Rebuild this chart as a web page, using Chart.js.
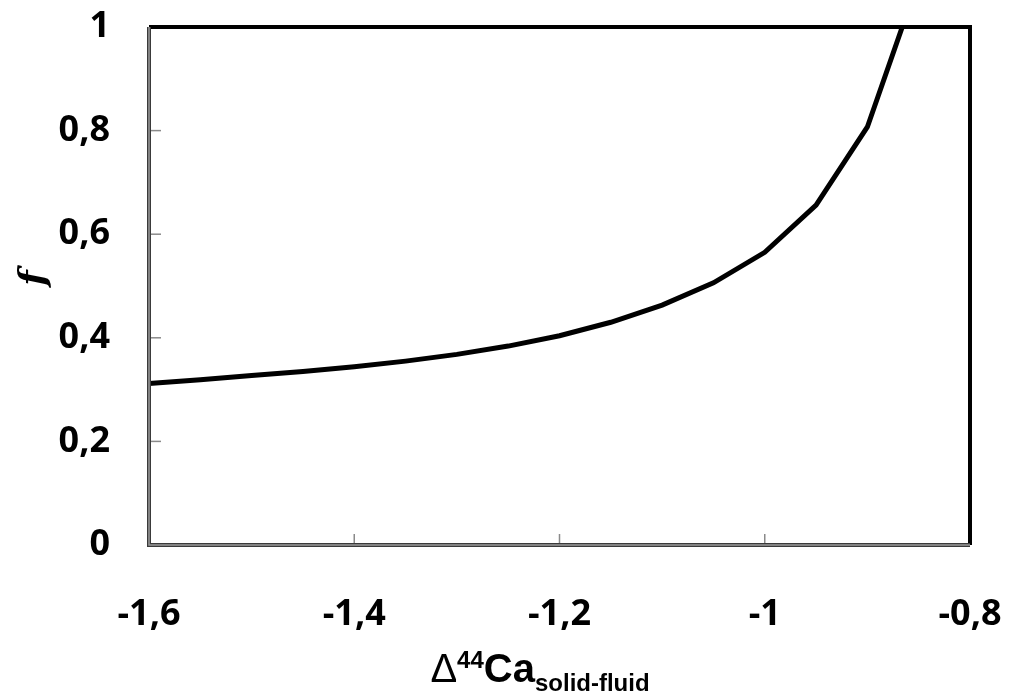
<!DOCTYPE html>
<html lang="en">
<head>
<meta charset="UTF-8" />
<title>f vs delta44Ca</title>
<script src="https://cdn.jsdelivr.net/npm/chart.js"></script>
<style>
  html, body {
    margin: 0; padding: 0;
    background: #fff;
  }
  #wrap {
    width: 1012px;
    height: 700px;
  }
</style>
</head>
<body>
<div id="wrap"><canvas id="chart" width="1012" height="700"></canvas></div>

<script>
  // values (every 0.05, last point where it hits f = 1)
  const deltaCa = [-1.6, -1.55, -1.5, -1.45, -1.4, -1.35, -1.3, -1.25, -1.2, -1.15, -1.1, -1.05, -1.0, -0.95, -0.9, -0.866];
  const fValues = [0.312, 0.319, 0.327, 0.335, 0.344, 0.355, 0.368, 0.384, 0.404, 0.430, 0.463, 0.506, 0.565, 0.656, 0.807, 1.0];
  const xTicks = [-1.6, -1.4, -1.2, -1, -0.8];
  const yTicks = [0, 0.2, 0.4, 0.6, 0.8, 1];

  const tickFont = { family: '"Open Sans", sans-serif', size: 36, weight: 'bold' };

  function fmt(v) {
    return String(Math.round(v * 10) / 10).replace('.', ',');
  }

  // frame, inward ticks and axis titles
  const decor = {
    id: 'decor',
    afterDraw(chart) {
      const { ctx, chartArea: a } = chart;
      const xs = chart.scales.x, ys = chart.scales.y;
      ctx.save();

      // inward tick marks
      ctx.strokeStyle = '#8a8a8a';
      ctx.lineWidth = 1.5;
      xTicks.forEach(v => {
        const px = xs.getPixelForValue(v);
        ctx.beginPath(); ctx.moveTo(px, a.bottom); ctx.lineTo(px, a.bottom - 11); ctx.stroke();
      });
      yTicks.forEach(v => {
        const py = ys.getPixelForValue(v);
        ctx.beginPath(); ctx.moveTo(a.left, py); ctx.lineTo(a.left + 12, py); ctx.stroke();
      });

      // top and right: black
      ctx.strokeStyle = '#000';
      ctx.lineWidth = 4;
      ctx.beginPath();
      ctx.moveTo(a.left, a.top); ctx.lineTo(a.right, a.top); ctx.lineTo(a.right, a.bottom);
      ctx.stroke();

      // left and bottom: dark outline with grey core
      ctx.strokeStyle = '#3a3a3a';
      ctx.lineWidth = 4;
      ctx.beginPath();
      ctx.moveTo(a.left, a.top); ctx.lineTo(a.left, a.bottom); ctx.lineTo(a.right, a.bottom);
      ctx.stroke();
      ctx.strokeStyle = '#9a9a9a';
      ctx.lineWidth = 1.5;
      ctx.stroke();

      // x title: Δ44Ca solid-fluid
      const base = 682;
      const parts = [
        { t: 'Δ', font: '40px "Liberation Sans", Arial, sans-serif', dy: 0 },
        { t: '44', font: 'bold 24px "Liberation Sans", Arial, sans-serif', dy: -14 },
        { t: 'Ca', font: 'bold 40px "Liberation Sans", Arial, sans-serif', dy: 0 },
        { t: 'solid-fluid', font: 'bold 24px "Liberation Sans", Arial, sans-serif', dy: 9 }
      ];
      let total = 0;
      parts.forEach(p => { ctx.font = p.font; p.w = ctx.measureText(p.t).width; total += p.w; });
      let x = 540 - total / 2;
      ctx.fillStyle = '#000';
      ctx.textBaseline = 'alphabetic';
      ctx.textAlign = 'left';
      parts.forEach(p => {
        ctx.font = p.font;
        ctx.fillText(p.t, x, base + p.dy);
        x += p.w;
      });

      // y title: italic f
      ctx.translate(35, 278);
      ctx.rotate(-Math.PI / 2);
      ctx.font = 'italic bold 36px "DejaVu Serif", serif';
      ctx.textAlign = 'center';
      ctx.textBaseline = 'middle';
      ctx.fillText('f', 0, 0);

      ctx.restore();
    }
  };

  new Chart(document.getElementById('chart'), {
    type: 'line',
    data: {
      datasets: [{
        data: deltaCa.map((x, i) => ({ x: x, y: fValues[i] })),
        borderColor: '#000',
        borderWidth: 5,
        pointRadius: 0,
        tension: 0,
        fill: false
      }]
    },
    options: {
      responsive: false,
      animation: false,
      layout: { padding: { top: 27, right: 42, left: 0, bottom: 0 } },
      plugins: { legend: { display: false }, tooltip: { enabled: false } },
      scales: {
        x: {
          type: 'linear',
          min: -1.6, max: -0.8,
          afterBuildTicks: s => { s.ticks = xTicks.map(v => ({ value: v })); },
          afterFit: s => { s.height = 155; s.paddingLeft = 0; s.paddingRight = 0; },
          grid: { display: false },
          border: { display: false },
          ticks: {
            font: tickFont, color: '#000', padding: 40, maxRotation: 0,
            callback: v => fmt(v)
          }
        },
        y: {
          min: 0, max: 1,
          afterBuildTicks: s => { s.ticks = yTicks.map(v => ({ value: v })); },
          afterFit: s => { s.width = 149; s.paddingTop = 0; s.paddingBottom = 0; },
          grid: { display: false },
          border: { display: false },
          ticks: {
            font: tickFont, color: '#000', padding: 31,
            callback: v => fmt(v)
          }
        }
      }
    },
    plugins: [decor]
  });
</script>
</body>
</html>
